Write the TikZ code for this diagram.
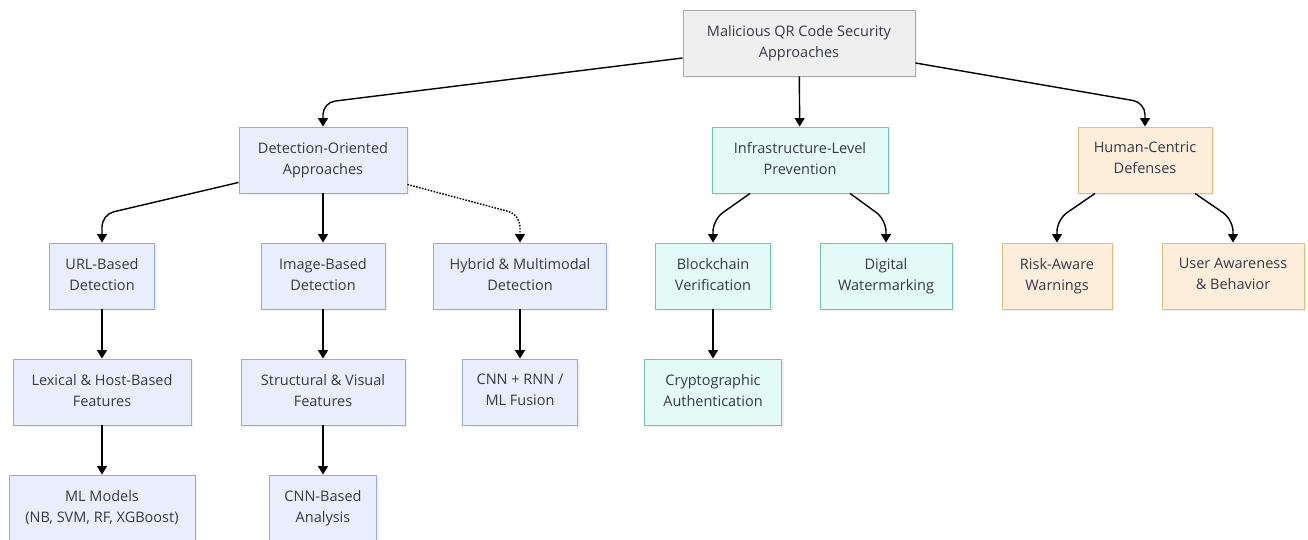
\documentclass[tikz,border=0pt]{standalone}
\usepackage{fontspec}
\setmainfont{Open Sans}
\usetikzlibrary{arrows.meta,shadows,calc}

\definecolor{txt}{HTML}{363846}
\definecolor{rootfill}{HTML}{EFEFEF}
\definecolor{rootline}{HTML}{A9A9A9}
\definecolor{detfill}{HTML}{E8EEFB}
\definecolor{detline}{HTML}{93ACD9}
\definecolor{infrafill}{HTML}{E4FAF6}
\definecolor{infraline}{HTML}{6CC6B2}
\definecolor{humfill}{HTML}{FDEEDC}
\definecolor{humline}{HTML}{EAB97C}

\tikzset{
  box/.style={draw, rectangle, minimum height=66pt, align=center, text=txt,
    font=\fontsize{14.5}{21}\selectfont, line width=0.9pt,
    execute at begin node={\rule{0pt}{18.4pt}},
    execute at end node={\rule[-4pt]{0pt}{4pt}},
    drop shadow={shadow xshift=2pt, shadow yshift=-2pt, opacity=0.12}},
  rootbox/.style={box, fill=rootfill, draw=rootline},
  detbox/.style={box, fill=detfill, draw=detline},
  infrabox/.style={box, fill=infrafill, draw=infraline},
  humbox/.style={box, fill=humfill, draw=humline},
  arr/.style={-{Triangle[width=10pt,length=8.5pt]}, line width=1.4pt, rounded corners=12pt},
  dotarr/.style={arr, dash pattern=on 1.6pt off 1.4pt}
}

\begin{document}
\begin{tikzpicture}[x=1pt, y=-1pt]
\useasboundingbox (0,0) rectangle (1308,540);

% top level
\node[rootbox, minimum width=232pt] (root) at (799,43) {Malicious QR Code Security\\Approaches};

% second level
\node[detbox, minimum width=168pt] (det) at (323,160) {Detection-Oriented\\Approaches};
\node[infrabox, minimum width=176pt] (infra) at (800,160) {Infrastructure-Level\\Prevention};
\node[humbox, minimum width=134pt] (hum) at (1145,160) {Human-Centric\\Defenses};

% third level
\node[detbox, minimum width=105pt] (url) at (102,276) {URL-Based\\Detection};
\node[detbox, minimum width=124pt] (img) at (323,276) {Image-Based\\Detection};
\node[detbox, minimum width=173pt] (hyb) at (520,276) {Hybrid \& Multimodal\\Detection};
\node[infrabox, minimum width=115pt] (chain) at (713,276) {Blockchain\\Verification};
\node[infrabox, minimum width=132pt] (mark) at (886,276) {Digital\\Watermarking};
\node[humbox, minimum width=110pt] (risk) at (1057,276) {Risk-Aware\\Warnings};
\node[humbox, minimum width=142pt] (user) at (1233,276) {User Awareness\\\& Behavior};

% fourth level
\node[detbox, minimum width=178pt] (lex) at (102,392) {Lexical \& Host-Based\\Features};
\node[detbox, minimum width=164pt] (visual) at (323,392) {Structural \& Visual\\Features};
\node[detbox, minimum width=115pt] (fusion) at (520,392) {CNN + RNN /\\ML Fusion};
\node[infrabox, minimum width=137pt] (crypto) at (713,392) {Cryptographic\\Authentication};

% fifth level
\node[detbox, minimum width=186pt] (mlm) at (102,508) {ML Models\\(NB, SVM, RF, XGBoost)};
\node[detbox, minimum width=107pt] (cnn) at (323,508) {CNN-Based\\Analysis};

% connectors
\draw[arr] ([yshift=-15pt]root.west) -- ($(det.north)+(0,-24)$) -- (det.north);
\draw[arr] (root) -- (infra);
\draw[arr] ([yshift=-20pt]root.east) -- ($(hum.north)+(0,-24)$) -- (hum.north);

\draw[arr] ([yshift=11pt]det.south west) -- ($(url.north)+(0,-28)$) -- (url.north);
\draw[arr] (det) -- (img);
\draw[dotarr] ([yshift=9pt]det.south east) -- ($(hyb.north)+(0,-28)$) -- (hyb.north);

\draw[arr] ($(infra.south)+(-50,0)$) -- ($(chain.north)+(0,-23)$) -- (chain.north);
\draw[arr] ($(infra.south)+(50,0)$) -- ($(mark.north)+(0,-23)$) -- (mark.north);
\draw[arr] ($(hum.south)+(-50,0)$) -- ($(risk.north)+(0,-23)$) -- (risk.north);
\draw[arr] ($(hum.south)+(50,0)$) -- ($(user.north)+(0,-23)$) -- (user.north);

\draw[arr] (url) -- (lex);
\draw[arr] (lex) -- (mlm);
\draw[arr] (img) -- (visual);
\draw[arr] (visual) -- (cnn);
\draw[arr] (hyb) -- (fusion);
\draw[arr] (chain) -- (crypto);
\end{tikzpicture}
\end{document}
